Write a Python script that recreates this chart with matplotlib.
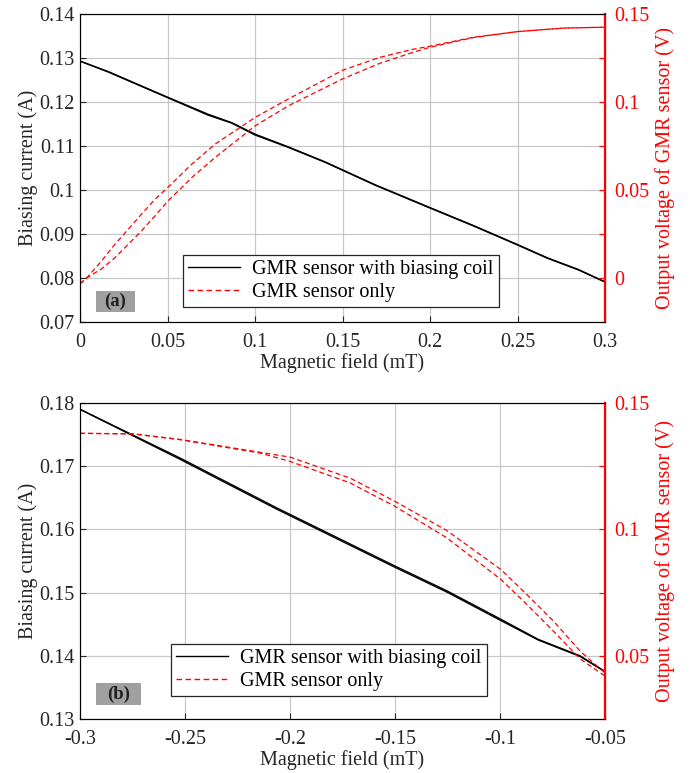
import matplotlib
matplotlib.use("Agg")
import matplotlib.pyplot as plt
from matplotlib.lines import Line2D
from matplotlib.patches import Rectangle

plt.rcParams['font.family'] = ['Liberation Serif', 'DejaVu Serif']
plt.rcParams['font.size'] = 14.5

# ---------- Panel (a) data ----------
a_field_black = [0.0, 0.0162, 0.05, 0.0733, 0.0867, 0.1, 0.119, 0.14, 0.1686, 0.2, 0.225, 0.25, 0.267, 0.285, 0.3]
a_current_fwd = [0.1293, 0.1268, 0.1210, 0.1170, 0.1152, 0.1125, 0.1097, 0.1063, 0.1011, 0.0959, 0.0918, 0.0875, 0.0845, 0.0818, 0.0791]
a_current_bwd = [0.1293, 0.1269, 0.1211, 0.1172, 0.1153, 0.1127, 0.1098, 0.1064, 0.1012, 0.0960, 0.0919, 0.0876, 0.0846, 0.0819, 0.0791]

a_field_red = [0.0, 0.0046, 0.0122, 0.0198, 0.0274, 0.035, 0.0427, 0.05, 0.0638, 0.0771, 0.1, 0.119,
               0.15, 0.1714, 0.1905, 0.2, 0.2248, 0.25, 0.2762, 0.3]
a_volt_upper = [-0.0033, 0.0009, 0.0095, 0.0190, 0.0275, 0.0361, 0.0446, 0.0513, 0.0646, 0.0760, 0.0912, 0.1017,
                0.1180, 0.1254, 0.1300, 0.1317, 0.1368, 0.1400, 0.1420, 0.1425]
a_volt_lower = [-0.0033, 0.0005, 0.0051, 0.0114, 0.0190, 0.0266, 0.0351, 0.0435, 0.0570, 0.0684, 0.0864, 0.0978,
                0.1131, 0.1220, 0.1283, 0.1311, 0.1366, 0.1400, 0.1420, 0.1425]

# ---------- Panel (b) data ----------
b_field_black = [-0.3, -0.2524, -0.2063, -0.15, -0.1254, -0.0997, -0.0818, -0.0619, -0.05]
b_current_fwd = [0.1790, 0.1713, 0.1634, 0.1542, 0.1503, 0.1458, 0.1426, 0.1400, 0.1375]
b_current_bwd = [0.1790, 0.1711, 0.1632, 0.1540, 0.1501, 0.1456, 0.1425, 0.1399, 0.1375]

b_field_red = [-0.3, -0.275, -0.2524, -0.2143, -0.2, -0.1714, -0.15, -0.1254, -0.0997, -0.0873, -0.0746, -0.0619, -0.05]
b_volt_upper = [0.1380, 0.1378, 0.1356, 0.1305, 0.1286, 0.1203, 0.1111, 0.0996, 0.0842, 0.0743, 0.0638, 0.0519, 0.0432]
b_volt_lower = [0.1380, 0.1378, 0.1355, 0.1302, 0.1269, 0.1184, 0.1091, 0.0967, 0.0803, 0.0704, 0.0598, 0.0488, 0.0420]

# ---------- axis ticks ----------
a_xticks = [0, 0.05, 0.1, 0.15, 0.2, 0.25, 0.3]
a_xticklabels = ['0', '0.05', '0.1', '0.15', '0.2', '0.25', '0.3']
a_yticks = [0.07, 0.08, 0.09, 0.1, 0.11, 0.12, 0.13, 0.14]
a_yticklabels = ['0.07', '0.08', '0.09', '0.1', '0.11', '0.12', '0.13', '0.14']
a_rticks = [-0.025, 0, 0.025, 0.05, 0.075, 0.1, 0.125, 0.15]
a_rticklabels = ['', '0', '', '0.05', '', '0.1', '', '0.15']

b_xticks = [-0.3, -0.25, -0.2, -0.15, -0.1, -0.05]
b_xticklabels = ['-0.3', '-0.25', '-0.2', '-0.15', '-0.1', '-0.05']
b_yticks = [0.13, 0.14, 0.15, 0.16, 0.17, 0.18]
b_yticklabels = ['0.13', '0.14', '0.15', '0.16', '0.17', '0.18']
b_rticks = [0.025, 0.05, 0.075, 0.1, 0.125, 0.15]
b_rticklabels = ['', '0.05', '', '0.1', '', '0.15']

legend_labels = ['GMR sensor with biasing coil', 'GMR sensor only']

W, H = 693, 773
fig = plt.figure(figsize=(W / 100, H / 100), dpi=100)
FS = 14.5
DASH = (0, (4, 2.5))


def make_panel(rect, fx_b, cur_f, cur_b, fx_r, v_up, v_lo, xlim, ylim, rlim,
               xt, xtl, yt, ytl, rt, rtl, tag, tagbox, legpos):
    ax = fig.add_axes(rect)
    ax.plot(fx_b, cur_f, color='black', lw=1.0)
    ax.plot(fx_b, cur_b, color='black', lw=1.0)
    ax.set_xlim(*xlim)
    ax.set_ylim(*ylim)
    ax.set_xticks(xt)
    ax.set_xticklabels(xtl)
    ax.set_yticks(yt)
    ax.set_yticklabels(ytl)
    ax.grid(True, color='#c8c8c8', lw=0.9)
    ax.set_axisbelow(True)
    ax.tick_params(direction='in', length=4, colors='#262626', labelsize=FS, pad=4)
    ax.tick_params(axis='x', pad=8)
    for s in ['left', 'top', 'bottom']:
        ax.spines[s].set_color('#262626')
    ax.set_xlabel('Magnetic field (mT)', fontsize=FS, color='#262626', labelpad=1)
    ax.set_ylabel('Biasing current (A)', fontsize=FS, color='#262626', labelpad=1)

    ax2 = ax.twinx()
    ax2.plot(fx_r, v_up, color='red', lw=0.9, ls=DASH)
    ax2.plot(fx_r, v_lo, color='red', lw=0.9, ls=DASH)
    ax2.set_ylim(*rlim)
    ax2.set_yticks(rt)
    ax2.set_yticklabels(rtl)
    ax2.tick_params(direction='in', length=4, colors='red', labelsize=FS, pad=7)
    ax2.spines['right'].set_color('red')
    ax2.spines['right'].set_linewidth(1.6)
    ax2.set_ylabel('Output voltage of GMR sensor (V)', color='red', fontsize=FS, labelpad=4)

    handles = [Line2D([], [], color='black', lw=1.0),
               Line2D([], [], color='red', lw=1.0, ls=DASH)]
    leg = ax2.legend(handles, legend_labels, loc='lower left', bbox_to_anchor=legpos,
                     fancybox=False, framealpha=1, edgecolor='#262626', fontsize=FS,
                     handlelength=2.6, borderpad=0.25, labelspacing=0.2, handletextpad=0.6,
                     borderaxespad=0)
    leg.get_frame().set_linewidth(0.9)
    x0, y0, x1, y1 = tagbox
    ax2.add_patch(Rectangle((x0, y0), x1 - x0, y1 - y0, transform=ax2.transAxes,
                            fc='#a0a0a0', ec='none', zorder=5))
    ax2.text((x0 + x1) / 2, (y0 + y1) / 2, tag, transform=ax2.transAxes, ha='center',
             va='center', fontsize=FS - 1, fontweight='bold', color='#202020', zorder=6)
    return ax, ax2


# axes rects in figure fraction
a_rect = [80 / W, 1 - 322 / H, 525 / W, 308 / H]
b_rect = [80 / W, 1 - 719 / H, 525 / W, 316 / H]

make_panel(a_rect, a_field_black, a_current_fwd, a_current_bwd, a_field_red,
           a_volt_upper, a_volt_lower, (0, 0.3), (0.07, 0.14), (-0.025, 0.15),
           a_xticks, a_xticklabels, a_yticks, a_yticklabels, a_rticks, a_rticklabels,
           '(a)', (0.0305, 0.0325, 0.1048, 0.1006), (0.196, 0.049))

make_panel(b_rect, b_field_black, b_current_fwd, b_current_bwd, b_field_red,
           b_volt_upper, b_volt_lower, (-0.3, -0.05), (0.13, 0.18), (0.025, 0.15),
           b_xticks, b_xticklabels, b_yticks, b_yticklabels, b_rticks, b_rticklabels,
           '(b)', (0.0305, 0.0443, 0.1162, 0.1139), (0.173, 0.073))

fig.savefig('out.png', dpi=100)
